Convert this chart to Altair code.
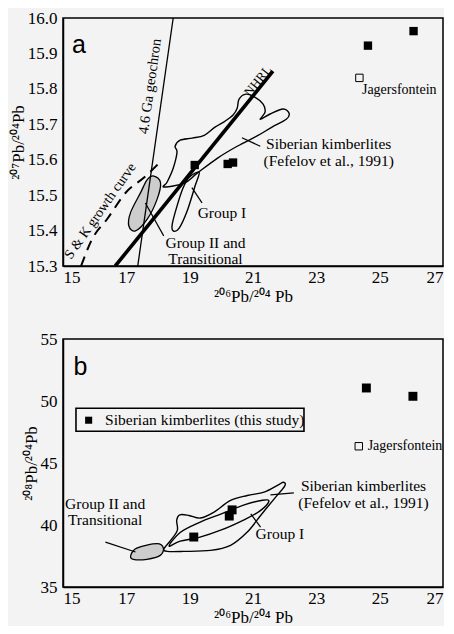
import altair as alt
import pandas as pd

# ---------------- axis ticks ----------------
x_ticks = [15, 17, 19, 21, 23, 25, 27]
ya_ticks = [15.3, 15.4, 15.5, 15.6, 15.7, 15.8, 15.9, 16.0]
yb_ticks = [35, 40, 45, 50, 55]

# ---------------- panel a data ----------------
a_study_x = [19.16, 20.20, 20.37, 24.63, 26.07]
a_study_y = [15.585, 15.588, 15.592, 15.922, 15.963]
a_jag_x = [24.36]
a_jag_y = [15.831]

geochron_x = [17.36, 18.48]
geochron_y = [15.30, 16.00]
nhrl_x = [16.65, 21.63]
nhrl_y = [15.30, 15.85]
sk_x = [15.57, 15.92, 16.39, 17.02, 17.55, 18.13]
sk_y = [15.300, 15.376, 15.432, 15.511, 15.549, 15.599]

a_sib_x = [18.19, 18.83, 19.24, 19.87, 20.50, 21.13, 21.60, 22.05, 22.14, 21.95,
           21.54, 21.23, 21.38, 21.32, 21.07, 20.78, 20.56, 20.50, 20.37, 20.12,
           19.80, 19.46, 19.08, 18.70, 18.54, 18.60, 18.48, 18.29]
a_sib_y = [15.523, 15.534, 15.562, 15.604, 15.638, 15.667, 15.692, 15.714, 15.731, 15.743,
           15.729, 15.714, 15.734, 15.757, 15.776, 15.785, 15.771, 15.745, 15.726, 15.709,
           15.692, 15.669, 15.661, 15.655, 15.638, 15.621, 15.576, 15.537]
a_g1_x = [19.30, 19.17, 18.92, 18.67, 18.48, 18.45, 18.60, 18.79, 18.98]
a_g1_y = [15.565, 15.526, 15.455, 15.407, 15.399, 15.418, 15.469, 15.520, 15.550]
a_g2_x = [17.87, 18.08, 17.97, 17.66, 17.29, 17.08, 17.13, 17.45, 17.66]
a_g2_y = [15.554, 15.535, 15.488, 15.432, 15.399, 15.413, 15.450, 15.507, 15.544]

# ---------------- panel b data ----------------
b_study_x = [19.13, 20.25, 20.34, 24.58, 26.05]
b_study_y = [39.03, 40.72, 41.22, 51.05, 50.38]
b_jag_x = [24.34]
b_jag_y = [46.35]

b_sib_x = [18.19, 18.40, 18.61, 18.59, 18.69, 18.98, 19.34, 19.77, 20.29, 20.82,
           21.35, 21.77, 21.96, 22.00, 21.67, 21.24, 20.82, 20.29, 19.66, 18.82, 18.29]
b_sib_y = [38.08, 38.76, 39.57, 40.37, 40.82, 40.77, 40.56, 41.04, 41.98, 42.38,
           42.65, 43.19, 43.45, 43.13, 42.11, 40.77, 39.43, 38.36, 37.95, 37.87, 37.87]
b_g1_x = [18.35, 18.70, 19.30, 20.00, 20.70, 21.20, 21.50, 21.30, 20.70, 20.00, 19.30, 18.70]
b_g1_y = [38.30, 38.70, 39.00, 39.60, 40.40, 41.10, 41.90, 42.00, 41.60, 40.90, 40.20, 39.40]
b_g2_x = [17.14, 17.33, 17.97, 18.17, 18.07, 17.65, 17.22]
b_g2_y = [37.55, 38.14, 38.49, 38.14, 37.55, 37.23, 37.23]

FONT = "Liberation Serif"
SANS = "Liberation Sans"
BG = "#f3f3f3"
W, H = 380, 248


def poly(xs, ys):
    return pd.DataFrame({"x": xs, "y": ys, "i": list(range(len(xs)))})


def enc(ydomain, yticks, ytitle, yfmt):
    X = alt.X("x:Q", scale=alt.Scale(domain=[15, 27], nice=False, zero=False),
              axis=alt.Axis(values=x_ticks, title="²⁰⁶Pb/²⁰⁴ Pb", grid=False, ticks=False,
                            labelFont=FONT, labelFontSize=17, titleFont=FONT, titleFontSize=17,
                            titleFontWeight="normal", labelColor="black", titleColor="black",
                            domainColor="black", domainWidth=1.5, labelPadding=3, titlePadding=3))
    Y = alt.Y("y:Q", scale=alt.Scale(domain=ydomain, nice=False, zero=False),
              axis=alt.Axis(values=yticks, format=yfmt, title=ytitle, grid=False, ticks=False,
                            labelFont=FONT, labelFontSize=17, titleFont=FONT, titleFontSize=17,
                            titleFontWeight="normal", labelColor="black", titleColor="black",
                            domainColor="black", domainWidth=1.5, labelPadding=6, titlePadding=0))
    return X, Y


def outline(xs, ys, X, Y, fill=None, width=1.4):
    kw = dict(interpolate="cardinal-closed", stroke="black", strokeWidth=width, clip=True)
    if fill:
        kw["fill"] = fill
    return alt.Chart(poly(xs, ys)).mark_line(**kw).encode(x=X, y=Y, order="i:Q")


def path(xs, ys, X, Y, **kw):
    return alt.Chart(poly(xs, ys)).mark_line(color="black", clip=True, **kw).encode(x=X, y=Y, order="i:Q")


def rules(rows, X, Y):
    df = pd.DataFrame(rows, columns=["x", "y", "x2", "y2"])
    return alt.Chart(df).mark_rule(color="black", strokeWidth=1.2).encode(
        x=X, y=Y, x2="x2:Q", y2="y2:Q")


def texts(rows, X, Y, align="center", size=15.5, angle=0, font=FONT):
    df = pd.DataFrame(rows, columns=["x", "y", "t"])
    return alt.Chart(df).mark_text(align=align, baseline="middle", font=font, fontSize=size,
                                   angle=angle, color="black").encode(x=X, y=Y, text="t:N")


def squares(xs, ys, X, Y, filled=True, size=70):
    df = pd.DataFrame({"x": xs, "y": ys})
    if filled:
        m = alt.Chart(df).mark_square(size=size, filled=True, color="black", opacity=1)
    else:
        m = alt.Chart(df).mark_square(size=size, filled=False, color="black", strokeWidth=1, opacity=1)
    return m.encode(x=X, y=Y)


# ---------------- panel a ----------------
XA, YA = enc([15.3, 16.0], ya_ticks, "²⁰⁷Pb/²⁰⁴Pb", ".1f")
panel_a = alt.layer(
    outline(a_g2_x, a_g2_y, XA, YA, fill="#cdcdcd", width=1.3),
    outline(a_sib_x, a_sib_y, XA, YA),
    outline(a_g1_x, a_g1_y, XA, YA),
    path(geochron_x, geochron_y, XA, YA, strokeWidth=1.3),
    path(sk_x, sk_y, XA, YA, strokeWidth=2, strokeDash=[10, 7], interpolate="monotone"),
    path(nhrl_x, nhrl_y, XA, YA, strokeWidth=3.6),
    rules([[20.65, 15.662, 21.23, 15.638],
           [19.07, 15.521, 19.39, 15.478],
           [17.60, 15.478, 18.18, 15.385]], XA, YA),
    squares(a_study_x, a_study_y, XA, YA),
    squares(a_jag_x, a_jag_y, XA, YA, filled=False, size=55),
    texts([[23.39, 15.644, "Siberian kimberlites"],
           [23.39, 15.596, "(Fefelov et al., 1991)"],
           [20.02, 15.450, "Group I"],
           [19.50, 15.366, "Group II and"],
           [19.50, 15.320, "Transitional"]], XA, YA),
    texts([[24.44, 15.796, "Jagersfontein"]], XA, YA, align="left", size=14),
    texts([[17.76, 15.807, "4.6 Ga geochron"]], XA, YA, size=14.5, angle=278),
    texts([[21.16, 15.822, "NHRL"]], XA, YA, size=13, angle=309),
    texts([[16.18, 15.455, "S & K growth curve"]], XA, YA, size=14, angle=305),
    texts([[15.50, 15.923, "a"]], XA, YA, size=25, font=SANS),
).properties(width=W, height=H)

# ---------------- panel b ----------------
XB, YB = enc([35, 55], yb_ticks, "²⁰⁸Pb/²⁰⁴Pb", "d")
legend_box = alt.Chart(pd.DataFrame({"x": [15.41], "x2": [22.61], "y": [49.41], "y2": [47.56]})).mark_rect(
    fill=BG, stroke="black", strokeWidth=1.6).encode(x=XB, x2="x2:Q", y=YB, y2="y2:Q")

panel_b = alt.layer(
    outline(b_g2_x, b_g2_y, XB, YB, fill="#cdcdcd", width=1.3),
    outline(b_sib_x, b_sib_y, XB, YB),
    outline(b_g1_x, b_g1_y, XB, YB),
    rules([[21.55, 42.43, 22.29, 42.59],
           [20.93, 40.90, 21.24, 39.83],
           [16.34, 38.62, 17.29, 37.82]], XB, YB),
    squares(b_study_x, b_study_y, XB, YB, size=80),
    squares(b_jag_x, b_jag_y, XB, YB, filled=False, size=55),
    legend_box,
    squares([15.81], [48.45], XB, YB, size=50),
    texts([[16.33, 48.45, "Siberian kimberlites (this study)"]], XB, YB, align="left"),
    texts([[24.49, 43.13, "Siberian kimberlites"],
           [24.49, 41.76, "(Fefelov et al., 1991)"],
           [16.33, 41.71, "Group II and"],
           [16.33, 40.42, "Transitional"]], XB, YB),
    texts([[21.08, 39.27, "Group I"]], XB, YB, align="left"),
    texts([[24.62, 46.35, "Jagersfontein"]], XB, YB, align="left", size=14),
    texts([[15.55, 52.77, "b"]], XB, YB, size=25, font=SANS),
).properties(width=W, height=H)

chart = alt.vconcat(panel_a, panel_b, spacing=24).properties(
    background=BG, padding={"left": 0, "top": 0, "right": 0, "bottom": 0}
).configure_view(stroke="black", strokeWidth=1.5, fill=BG)

chart.save("out.html", embed_options={"renderer": "svg", "actions": False})
